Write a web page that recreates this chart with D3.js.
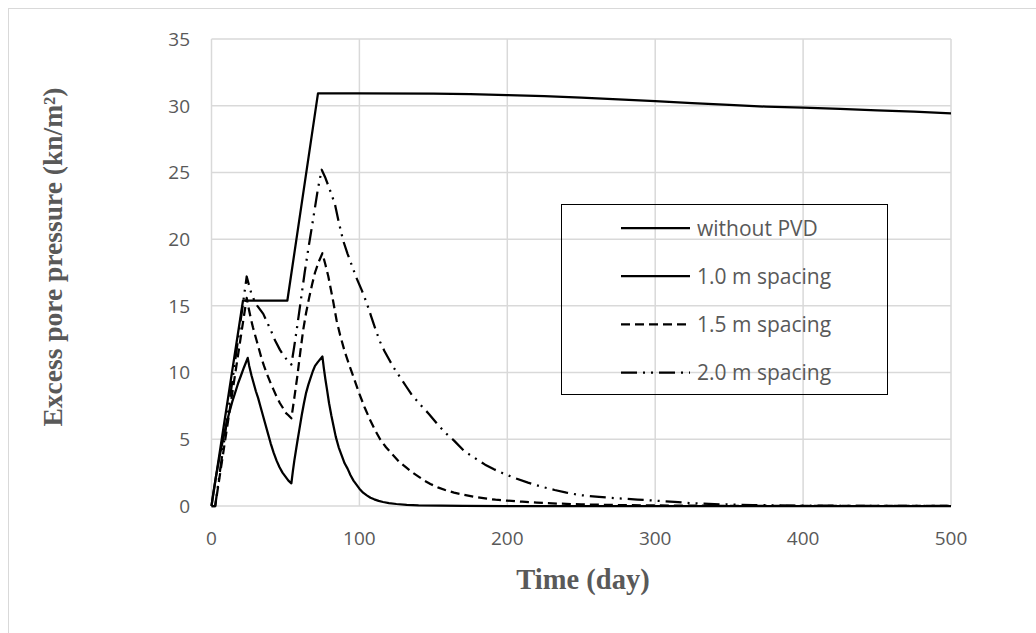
<!DOCTYPE html>
<html>
<head>
<meta charset="utf-8">
<script src="https://cdn.jsdelivr.net/npm/d3@7"></script>
<style>
  body { margin: 0; background: #fff; }
</style>
</head>
<body>
<div id="chart-area"></div>
<script>
var xTicks = [0, 100, 200, 300, 400, 500];
var yTicks = [0, 5, 10, 15, 20, 25, 30, 35];
var seriesNames = ["without PVD", "1.0 m spacing", "1.5 m spacing", "2.0 m spacing"];

// [time (day), excess pore pressure]
var withoutPVD = [[0,0],[21.3,15.4],[51.3,15.4],[72,30.93],[100,30.92],[150,30.9],[175,30.86],
  [200,30.8],[225,30.71],[250,30.6],[275,30.48],[300,30.34],[325,30.2],[350,30.06],[375,29.93],
  [400,29.85],[425,29.76],[450,29.66],[475,29.55],[500,29.43]];
var spacing10 = [[0,0],[1,0.8],[2,1.5],[3,2.2],[4,2.8],[5,3.4],[6,4],[8,5.1],[10,6.1],[12,7],
  [14,7.8],[16,8.5],[18,9.2],[20,9.8],[22,10.4],[24.5,11.1],
  [25.5,10.5],[27,9.8],[28.5,9.2],[30,8.6],[31.5,8.1],[33,7.5],[34.5,6.9],[36,6.3],[38,5.5],
  [40,4.7],[42,4],[44,3.4],[46,2.9],[48,2.5],[50,2.2],[52,1.9],[54,1.7],
  [55,2.6],[56,3.4],[57,4.1],[58,4.8],[59.5,5.8],[61,6.8],[62.5,7.7],[64,8.5],[65.5,9.1],
  [67,9.6],[68.5,10.1],[70,10.5],[72,10.8],[75,11.2],
  [76,10.3],[77,9.5],[78,8.8],[79.5,7.7],[81,6.8],[82.5,6],[84,5.2],[86,4.4],[88,3.8],
  [90,3.2],[92,2.8],[94,2.3],[96,1.9],[98,1.6],[100,1.3],[102.5,1],[105,0.8],[107.5,0.62],
  [110,0.5],[113,0.38],[116,0.3],[120,0.22],[125,0.15],[132,0.09],[140,0.05],[155,0.02],
  [170,0.01],[200,0],[500,0]];
var spacing15 = [[0,0],[2.5,0],[23.8,15.6],
  [25,14.9],[26.5,14.1],[28,13.4],[30.5,12.4],[32,11.8],[34,11],[35.5,10.5],[37.3,9.95],
  [40,9.2],[42,8.7],[44,8.2],[46.3,7.7],[48,7.4],[50,7],[52,6.8],[54,6.57],
  [56,8.1],[58,9.7],[60,11.5],[62,13.2],[64,14.5],[66,15.6],[68,16.6],[70,17.5],[72.5,18.3],
  [75,18.94],
  [77,18.1],[79,17.2],[82,15.5],[84.6,13.9],[87,12.8],[90,11.6],[93,10.6],[95.9,9.7],
  [100,8.4],[103.5,7.4],[107,6.5],[110.5,5.7],[114,5],[118,4.4],[122,3.9],[127,3.3],
  [132,2.85],[136,2.5],[140,2.2],[144,1.9],[148,1.65],[153,1.4],[158,1.2],[164,1],
  [170,0.85],[177,0.7],[185,0.57],[192,0.47],[200,0.4],[210,0.32],[220,0.25],[235,0.18],
  [250,0.12],[275,0.07],[300,0.04],[350,0.01],[500,0]];
var spacing20 = [[0,0],[2.5,0],[23.8,17.2],
  [25,16.7],[27,15.9],[29,15.4],[31,15],[33,14.7],[35,14.4],[37.5,13.8],[40,13.2],[43,12.4],
  [46.3,11.7],[48,11.4],[50,11.1],[52,10.8],[54,10.6],
  [56,12],[58,13.5],[60.5,15.5],[63,17.5],[65.5,19.3],[68,21],[70,22.4],[72,23.8],[74.5,25.2],
  [77,24.6],[79,24],[81,23.4],[83.5,22.6],[86,21.3],[89,19.9],[92,18.9],[95,18],[98,17.1],
  [101.5,16.2],[105,15.2],[108,14.2],[111,13.2],[114,12.3],[117,11.6],[120,11],[123,10.4],
  [126,9.9],[129,9.4],[132,8.9],[135,8.4],[138,8],[142,7.5],[147,6.9],[153,6.1],[158,5.5],
  [164,4.9],[171,4.1],[178,3.6],[185,3.1],[191,2.75],[197,2.45],[205,2.1],[214,1.75],
  [223,1.45],[232,1.2],[240,1],[249,0.82],[262,0.68],[275,0.57],[288,0.48],[300,0.4],
  [313,0.3],[326,0.2],[340,0.14],[353,0.1],[366,0.07],[380,0.05],[400,0.03],[420,0.02],
  [460,0.01],[500,0]];

var series = [withoutPVD, spacing10, spacing15, spacing20];
var dashes = [null, null, "9,5", "16,6,2,6,2,6"];

var width = 1036, height = 633;
var svg = d3.select("#chart-area").append("svg")
    .attr("width", width)
    .attr("height", height);

// outer frame
svg.append("rect")
    .attr("x", 8.5).attr("y", 8.5)
    .attr("width", 1100).attr("height", 700)
    .attr("fill", "none")
    .attr("stroke", "#d9d9d9");

var x = d3.scaleLinear().domain([0, 500]).range([211.5, 951]);
var y = d3.scaleLinear().domain([0, 35]).range([506, 39]);

// grid
svg.append("g").selectAll("line")
    .data(yTicks).enter().append("line")
    .attr("x1", x(0)).attr("x2", x(500))
    .attr("y1", d => y(d)).attr("y2", d => y(d))
    .attr("stroke", "#d9d9d9").attr("stroke-width", 1.5);
svg.append("g").selectAll("line")
    .data(xTicks).enter().append("line")
    .attr("y1", y(0)).attr("y2", y(35))
    .attr("x1", d => x(d)).attr("x2", d => x(d))
    .attr("stroke", "#d9d9d9").attr("stroke-width", 1.5);

// tick labels
svg.append("g").selectAll("text")
    .data(yTicks).enter().append("text")
    .attr("x", 190).attr("y", d => y(d))
    .attr("dy", "0.36em")
    .attr("text-anchor", "end")
    .attr("font-family", "Open Sans")
    .attr("font-size", 19)
    .attr("fill", "#595959")
    .text(d => d);
svg.append("g").selectAll("text")
    .data(xTicks).enter().append("text")
    .attr("x", d => x(d)).attr("y", 545)
    .attr("text-anchor", "middle")
    .attr("font-family", "Open Sans")
    .attr("font-size", 19)
    .attr("fill", "#595959")
    .text(d => d);

// axis titles
svg.append("text")
    .attr("x", 583).attr("y", 589)
    .attr("text-anchor", "middle")
    .attr("font-family", "Liberation Serif")
    .attr("font-weight", "bold")
    .attr("font-size", 28.5)
    .attr("fill", "#595959")
    .text("Time (day)");
svg.append("text")
    .attr("transform", "translate(62,257) rotate(-90)")
    .attr("text-anchor", "middle")
    .attr("font-family", "Liberation Serif")
    .attr("font-weight", "bold")
    .attr("font-size", 27.5)
    .attr("fill", "#595959")
    .text("Excess pore pressure (kn/m²)");

// lines
var line = d3.line().x(d => x(d[0])).y(d => y(d[1]));
svg.append("g").selectAll("path")
    .data(series).enter().append("path")
    .attr("d", line)
    .attr("fill", "none")
    .attr("stroke", "#000")
    .attr("stroke-width", 2.25)
    .attr("stroke-linejoin", "round")
    .attr("stroke-dasharray", (d, i) => dashes[i]);

// legend
var legend = svg.append("g");
legend.append("rect")
    .attr("x", 561.5).attr("y", 204.5)
    .attr("width", 326).attr("height", 190)
    .attr("fill", "none")
    .attr("stroke", "#000").attr("stroke-width", 1);
var rows = legend.selectAll("g.row")
    .data(seriesNames).enter().append("g")
    .attr("class", "row")
    .attr("transform", (d, i) => "translate(0," + (228 + i * 48.2) + ")");
rows.append("line")
    .attr("x1", 621).attr("x2", 690)
    .attr("stroke", "#000").attr("stroke-width", 2.25)
    .attr("stroke-dasharray", (d, i) => dashes[i]);
rows.append("text")
    .attr("x", 697).attr("dy", "0.36em")
    .attr("font-family", "Open Sans")
    .attr("font-size", 21)
    .attr("fill", "#595959")
    .text(d => d);
</script>
</body>
</html>
